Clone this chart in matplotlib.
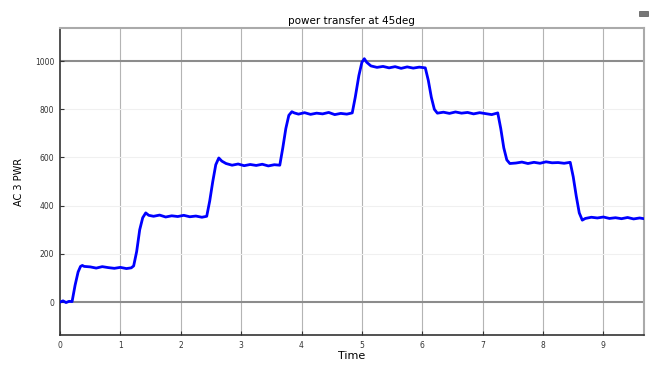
import matplotlib
matplotlib.use('Agg')
import matplotlib.pyplot as plt
from matplotlib.patches import Rectangle

# measured power, step up then step down
time = [0, 0.05, 0.1, 0.15, 0.2,
        0.25, 0.3, 0.34, 0.37,
        0.4, 0.5, 0.6, 0.7, 0.8, 0.9, 1.0, 1.1, 1.18, 1.22,
        1.27, 1.32, 1.37, 1.42, 1.47,
        1.55, 1.65, 1.75, 1.85, 1.95, 2.05, 2.15, 2.25, 2.35, 2.43,
        2.48, 2.53, 2.58, 2.63, 2.68,
        2.75, 2.85, 2.95, 3.05, 3.15, 3.25, 3.35, 3.45, 3.55, 3.64,
        3.69, 3.74, 3.79, 3.84, 3.88,
        3.95, 4.05, 4.15, 4.25, 4.35, 4.45, 4.55, 4.65, 4.75, 4.84,
        4.89, 4.95, 5.0, 5.04, 5.08,
        5.15, 5.25, 5.35, 5.45, 5.55, 5.65, 5.75, 5.85, 5.95, 6.05,
        6.1, 6.15, 6.2, 6.25,
        6.35, 6.45, 6.55, 6.65, 6.75, 6.85, 6.95, 7.05, 7.15, 7.25,
        7.3, 7.35, 7.4, 7.45,
        7.55, 7.65, 7.75, 7.85, 7.95, 8.05, 8.15, 8.25, 8.35, 8.45,
        8.5, 8.55, 8.6, 8.65, 8.7,
        8.8, 8.9, 9.0, 9.1, 9.2, 9.3, 9.4, 9.5, 9.6, 9.67]
power = [0, 5, -2, 3, 2,
         70, 125, 148, 152,
         148, 146, 141, 147, 143, 140, 144, 139, 142, 150,
         210, 300, 350, 370, 360,
         356, 361, 353, 358, 355, 360, 354, 357, 352, 356,
         420, 500, 570, 598, 585,
         575, 568, 573, 566, 571, 567, 572, 565, 570, 568,
         640, 720, 775, 790, 785,
         780, 786, 779, 784, 781, 787, 778, 783, 780, 785,
         850, 940, 995, 1010, 995,
         980, 974, 978, 972, 977, 970, 976, 971, 975, 972,
         920, 850, 800, 784,
         788, 783, 789, 784, 787, 781, 786, 782, 778, 785,
         720, 640, 590, 575,
         577, 581, 575, 580, 576, 582, 578, 579, 576, 580,
         520, 440, 370, 340, 347,
         352, 349, 353, 347, 350, 346, 351, 345, 349, 346]

xticks = [0, 1, 2, 3, 4, 5, 6, 7, 8, 9]
yticks = [0, 200, 400, 600, 800, 1000]

fig = plt.figure(figsize=(6.55, 3.65), dpi=100)
ax = fig.add_axes([0.0916, 0.082, 0.8914, 0.841])

for x in xticks[1:]:
    ax.axvline(x, color='#b4b4b4', lw=0.8, zorder=1)
for y in yticks[1:-1]:
    ax.axhline(y, color='#f0f0f0', lw=0.8, zorder=1)
for y in (0, 1000):
    ax.axhline(y, color='#8c8c8c', lw=1.5, zorder=1)

ax.plot(time, power, color='#0000ff', lw=2.0, zorder=3)

ax.set_xlim(0, 9.67)
ax.set_ylim(-137, 1137)
ax.set_xticks(xticks)
ax.set_yticks(yticks)
ax.tick_params(direction='in', labelsize=5.5, length=3, colors='#333333', pad=4)

for side in ('top', 'right'):
    ax.spines[side].set_color('#aaaaaa')
    ax.spines[side].set_linewidth(1.5)
for side in ('left', 'bottom'):
    ax.spines[side].set_color('#333333')
    ax.spines[side].set_linewidth(1.2)

ax.set_title('power transfer at 45deg', fontsize=7.5, pad=3)
ax.set_xlabel('Time', fontsize=8, labelpad=1)
ax.set_ylabel('AC 3 PWR', fontsize=7, labelpad=8)

# small marker box in the top right corner
fig.patches.append(Rectangle((0.975, 0.955), 0.014, 0.015, transform=fig.transFigure,
                             facecolor='#777777', edgecolor='#555555', lw=0.5))

fig.savefig('out.png', dpi=100)
